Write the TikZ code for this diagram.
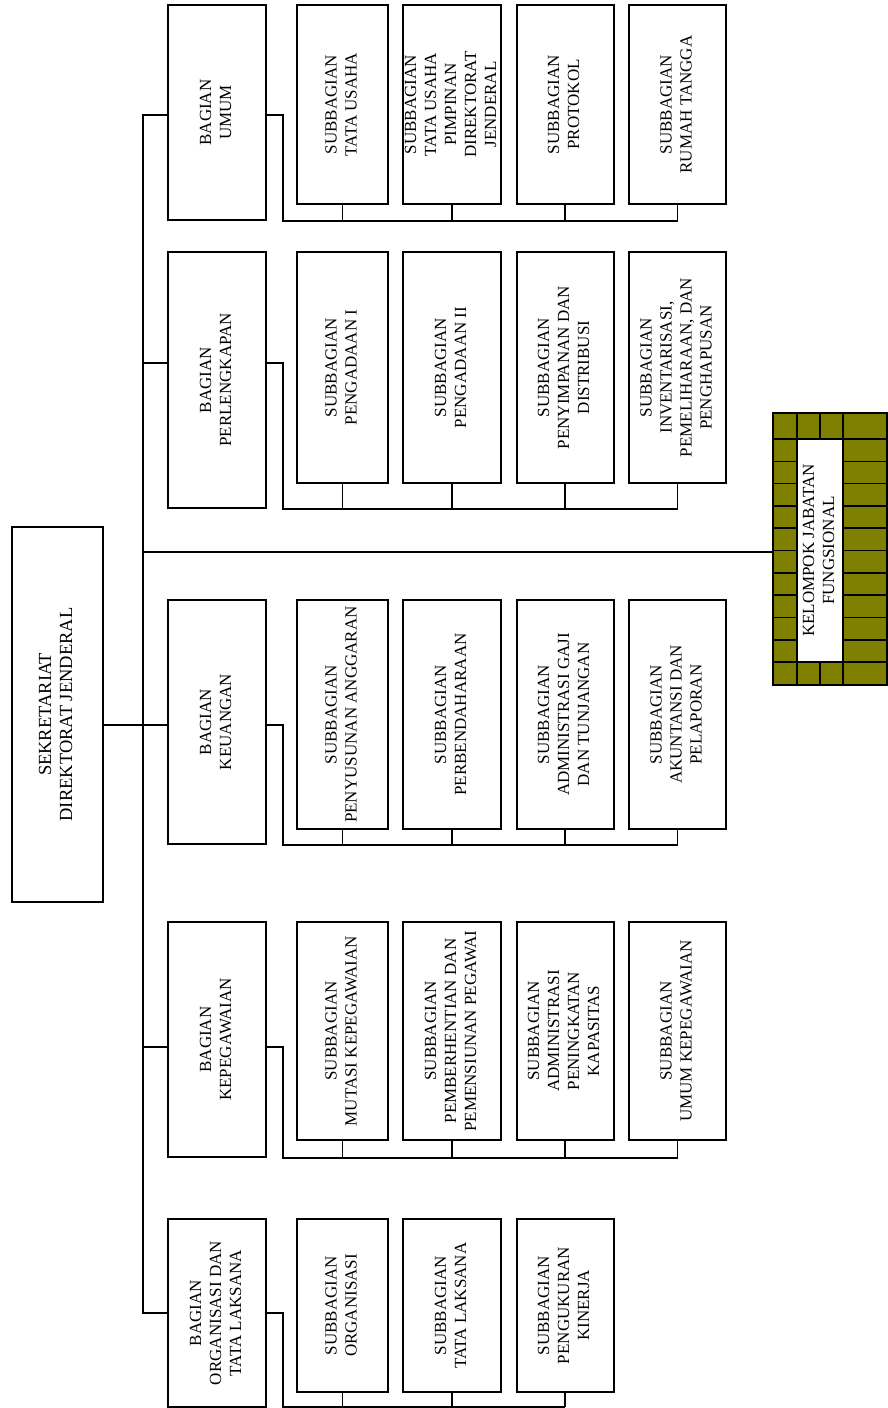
\documentclass[tikz,border=0pt]{standalone}
\usepackage{fontspec}
\setmainfont{Liberation Serif}

\definecolor{jfolive}{RGB}{128,128,0}
\newcommand{\vlabel}[1]{\makebox[0pt]{\rotatebox{90}{\begin{tabular}{@{}c@{}}#1\end{tabular}}}}

\begin{document}
\begin{tikzpicture}[
  x=1pt, y=-1pt,
  box/.style={rectangle, draw, line width=2pt, inner sep=0pt, font=\fontsize{17}{20}\selectfont},
  bagian/.style={box, minimum width=98pt},
  sub/.style={box, minimum width=#1},
  sub/.default=97pt,
  link/.style={line width=1.7pt}
]
\useasboundingbox (0,0) rectangle (888,1408);

\node[box, minimum width=91pt, minimum height=375pt, font=\fontsize{18.5}{21}\selectfont]
  (sekre) at (57.5,714.5) {\vlabel{SEKRETARIAT\\DIREKTORAT JENDERAL}};

% bagian
\node[bagian, minimum height=215pt] (umum) at (217,112.5) {\vlabel{BAGIAN\\UMUM}};
\node[bagian, minimum height=256pt] (perl) at (217,380) {\vlabel{BAGIAN\\PERLENGKAPAN}};
\node[bagian, minimum height=244pt] (keu) at (217,722) {\vlabel{BAGIAN\\KEUANGAN}};
\node[bagian, minimum height=235pt] (kpg) at (217,1039.5) {\vlabel{BAGIAN\\KEPEGAWAIAN}};
\node[bagian, minimum height=188pt] (org) at (217,1313) {\vlabel{BAGIAN\\ORGANISASI DAN\\TATA LAKSANA}};

% subbagian umum
\node[sub=91pt, minimum height=199pt] (umA) at (342.5,104.5) {\vlabel{SUBBAGIAN\\TATA USAHA}};
\node[sub=98pt, minimum height=199pt] (umB) at (452,104.5) {\vlabel{SUBBAGIAN\\TATA USAHA\\PIMPINAN\\DIREKTORAT\\JENDERAL}};
\node[sub, minimum height=199pt] (umC) at (565,104.5) {\vlabel{SUBBAGIAN\\PROTOKOL}};
\node[sub, minimum height=199pt] (umD) at (677.5,104.5) {\vlabel{SUBBAGIAN\\RUMAH TANGGA}};

% subbagian perlengkapan
\node[sub=91pt, minimum height=231pt] (plA) at (342.5,367.5) {\vlabel{SUBBAGIAN\\PENGADAAN I}};
\node[sub=98pt, minimum height=231pt] (plB) at (452,367.5) {\vlabel{SUBBAGIAN\\PENGADAAN II}};
\node[sub, minimum height=231pt] (plC) at (565,367.5) {\vlabel{SUBBAGIAN\\PENYIMPANAN DAN\\DISTRIBUSI}};
\node[sub, minimum height=231pt] (plD) at (677.5,367.5) {\vlabel{SUBBAGIAN\\INVENTARISASI,\\PEMELIHARAAN, DAN\\PENGHAPUSAN}};

% subbagian keuangan
\node[sub=91pt, minimum height=229pt] (kuA) at (342.5,714.5) {\vlabel{SUBBAGIAN\\PENYUSUNAN ANGGARAN}};
\node[sub=98pt, minimum height=229pt] (kuB) at (452,714.5) {\vlabel{SUBBAGIAN\\PERBENDAHARAAN}};
\node[sub, minimum height=229pt] (kuC) at (565,714.5) {\vlabel{SUBBAGIAN\\ADMINISTRASI GAJI\\DAN TUNJANGAN}};
\node[sub, minimum height=229pt] (kuD) at (677.5,714.5) {\vlabel{SUBBAGIAN\\AKUNTANSI DAN\\PELAPORAN}};

% subbagian kepegawaian
\node[sub=91pt, minimum height=218pt] (kpA) at (342.5,1031) {\vlabel{SUBBAGIAN\\MUTASI KEPEGAWAIAN}};
\node[sub=98pt, minimum height=218pt] (kpB) at (452,1031) {\vlabel{SUBBAGIAN\\PEMBERHENTIAN DAN\\PEMENSIUNAN PEGAWAI}};
\node[sub, minimum height=218pt] (kpC) at (565,1031) {\vlabel{SUBBAGIAN\\ADMINISTRASI\\PENINGKATAN\\KAPASITAS}};
\node[sub, minimum height=218pt] (kpD) at (677.5,1031) {\vlabel{SUBBAGIAN\\UMUM KEPEGAWAIAN}};

% subbagian organisasi
\node[sub=91pt, minimum height=173pt] (orA) at (342.5,1305.5) {\vlabel{SUBBAGIAN\\ORGANISASI}};
\node[sub=98pt, minimum height=173pt] (orB) at (452,1305.5) {\vlabel{SUBBAGIAN\\TATA LAKSANA}};
\node[sub, minimum height=173pt] (orC) at (565,1305.5) {\vlabel{SUBBAGIAN\\PENGUKURAN\\KINERJA}};

% kelompok jabatan fungsional
\node[rectangle, draw, line width=1.8pt, fill=jfolive, minimum width=114pt, minimum height=272pt, inner sep=0pt]
  (kjf) at (830,549) {};
\foreach \i in {0,...,10} {
  \draw[line width=1.6pt] (773,{439+22.3*\i}) -- (797,{439+22.3*\i});
  \draw[line width=1.6pt] (843,{439+22.3*\i}) -- (887,{439+22.3*\i});
}
\draw[line width=1.6pt] (797,413) -- (797,685) (843,413) -- (843,685)
  (820,413) -- (820,439) (820,662) -- (820,685);
\node[box, fill=white, line width=1.6pt, minimum width=46pt, minimum height=223pt]
  (kjftext) at (820,550.5) {\vlabel{KELOMPOK JABATAN\\FUNGSIONAL}};

% garis ke bagian
\draw[link] ([yshift=-2.5pt]umum.west) -- ++(-24,0) coordinate (top) -- (top |- org.west) -- (org.west);
\draw[link] ([yshift=17pt]perl.west) -- ++(-24,0);
\draw[link] ([yshift=-7.5pt]kpg.west) -- ++(-24,0);
\draw[link] ([yshift=-3pt]sekre.east |- keu.west) -- ([yshift=-3pt]keu.west);
\draw[link] ([yshift=-3pt]kjf.west -| top) -- ([yshift=-3pt]kjf.west);

% garis ke subbagian
\draw[link] ([yshift=-2.5pt]umum.east) -- ++(16,0) |- (umD.south |- umum.south);
\foreach \n in {umA,umB,umC,umD} \draw[link] (\n.south) -- (\n.south |- umum.south);
\draw[link] ([yshift=17pt]perl.east) -- ++(16,0) |- (plD.south |- perl.south);
\foreach \n in {plA,plB,plC,plD} \draw[link] (\n.south) -- (\n.south |- perl.south);
\draw[link] ([yshift=-3pt]keu.east) -- ++(16,0) |- (kuD.south |- keu.south);
\foreach \n in {kuA,kuB,kuC,kuD} \draw[link] (\n.south) -- (\n.south |- keu.south);
\draw[link] ([yshift=-7.5pt]kpg.east) -- ++(16,0) |- (kpD.south |- kpg.south);
\foreach \n in {kpA,kpB,kpC,kpD} \draw[link] (\n.south) -- (\n.south |- kpg.south);
\draw[link] (org.east) -- ++(16,0) |- ([yshift=1pt]orC.south |- org.south);
\foreach \n in {orA,orB,orC} \draw[link] (\n.south) -- ([yshift=1pt]\n.south |- org.south);

\end{tikzpicture}
\end{document}
